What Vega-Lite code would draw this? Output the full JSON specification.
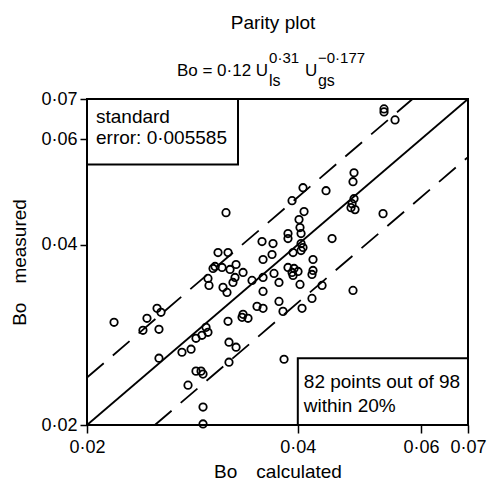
{
  "$schema": "https://vega.github.io/schema/vega-lite/v6.json",
  "width": 381,
  "height": 326,
  "autosize": "none",
  "padding": {"left": 87, "top": 99, "right": 22, "bottom": 59},
  "background": "white",
  "config": {
    "view": {"stroke": "black", "strokeWidth": 2},
    "font": "Liberation Sans",
    "axis": {"domain": false, "grid": false, "ticks": true, "tickColor": "black", "tickWidth": 1.5, "tickSize": 7, "labelColor": "black", "labelFont": "Liberation Sans", "labelFontSize": 18, "titleFont": "Liberation Sans", "titleFontSize": 19, "titleFontWeight": "normal", "titleColor": "black", "labelOverlap": false, "labelFlush": false}
  },
  "datasets": {
    "pts": [
      {"calc": 0.05311, "meas": 0.06738}, {"calc": 0.05311, "meas": 0.06661}, {"calc": 0.05507, "meas": 0.0646},
      {"calc": 0.03159, "meas": 0.04523}, {"calc": 0.04812, "meas": 0.05272}, {"calc": 0.04796, "meas": 0.05094},
      {"calc": 0.04069, "meas": 0.04978}, {"calc": 0.04389, "meas": 0.04921}, {"calc": 0.03925, "meas": 0.04736},
      {"calc": 0.04812, "meas": 0.04772}, {"calc": 0.04781, "meas": 0.04682}, {"calc": 0.04765, "meas": 0.04611},
      {"calc": 0.04828, "meas": 0.04576}, {"calc": 0.04083, "meas": 0.04541}, {"calc": 0.05294, "meas": 0.04506},
      {"calc": 0.04016, "meas": 0.04404}, {"calc": 0.04029, "meas": 0.04271}, {"calc": 0.04043, "meas": 0.04174},
      {"calc": 0.03873, "meas": 0.04174}, {"calc": 0.03873, "meas": 0.04095}, {"calc": 0.04477, "meas": 0.04095},
      {"calc": 0.03556, "meas": 0.04048}, {"calc": 0.03687, "meas": 0.04017}, {"calc": 0.04043, "meas": 0.04017},
      {"calc": 0.04069, "meas": 0.03956}, {"calc": 0.04043, "meas": 0.0391}, {"calc": 0.03938, "meas": 0.0388},
      {"calc": 0.03675, "meas": 0.03851}, {"calc": 0.03077, "meas": 0.0388}, {"calc": 0.0318, "meas": 0.0388},
      {"calc": 0.03568, "meas": 0.03778}, {"calc": 0.04205, "meas": 0.03778}, {"calc": 0.03265, "meas": 0.03706},
      {"calc": 0.03027, "meas": 0.0365}, {"calc": 0.03118, "meas": 0.03664}, {"calc": 0.03201, "meas": 0.03636},
      {"calc": 0.03341, "meas": 0.03594}, {"calc": 0.03873, "meas": 0.03664}, {"calc": 0.03951, "meas": 0.0365},
      {"calc": 0.04003, "meas": 0.03608}, {"calc": 0.03925, "meas": 0.03594}, {"calc": 0.03938, "meas": 0.03553},
      {"calc": 0.04205, "meas": 0.03622}, {"calc": 0.04191, "meas": 0.03567}, {"calc": 0.03699, "meas": 0.03581},
      {"calc": 0.03568, "meas": 0.03526}, {"calc": 0.03441, "meas": 0.03486}, {"calc": 0.02977, "meas": 0.03513},
      {"calc": 0.03254, "meas": 0.03526}, {"calc": 0.03232, "meas": 0.03459}, {"calc": 0.0376, "meas": 0.03459},
      {"calc": 0.04029, "meas": 0.03433}, {"calc": 0.04332, "meas": 0.0342}, {"calc": 0.04796, "meas": 0.03355},
      {"calc": 0.02987, "meas": 0.0342}, {"calc": 0.03128, "meas": 0.03394}, {"calc": 0.03169, "meas": 0.03329},
      {"calc": 0.03568, "meas": 0.03342}, {"calc": 0.04191, "meas": 0.03253}, {"calc": 0.0376, "meas": 0.03216},
      {"calc": 0.03498, "meas": 0.03155}, {"calc": 0.03568, "meas": 0.03131}, {"calc": 0.04056, "meas": 0.03131},
      {"calc": 0.0381, "meas": 0.03095}, {"calc": 0.03341, "meas": 0.0306}, {"calc": 0.0333, "meas": 0.03025},
      {"calc": 0.03396, "meas": 0.03014}, {"calc": 0.0318, "meas": 0.02979}, {"calc": 0.02958, "meas": 0.02911},
      {"calc": 0.02977, "meas": 0.02856}, {"calc": 0.02919, "meas": 0.02823}, {"calc": 0.02862, "meas": 0.02791},
      {"calc": 0.02816, "meas": 0.02676}, {"calc": 0.02733, "meas": 0.02645}, {"calc": 0.0319, "meas": 0.02749},
      {"calc": 0.03265, "meas": 0.02697}, {"calc": 0.0319, "meas": 0.02546}, {"calc": 0.02518, "meas": 0.03131},
      {"calc": 0.02551, "meas": 0.03084}, {"calc": 0.02436, "meas": 0.03014}, {"calc": 0.02186, "meas": 0.02968},
      {"calc": 0.02404, "meas": 0.02878}, {"calc": 0.02534, "meas": 0.02889}, {"calc": 0.02534, "meas": 0.02585},
      {"calc": 0.02862, "meas": 0.0246}, {"calc": 0.0291, "meas": 0.0246}, {"calc": 0.02929, "meas": 0.02432},
      {"calc": 0.02788, "meas": 0.02331}, {"calc": 0.02929, "meas": 0.02143}, {"calc": 0.02929, "meas": 0.02008},
      {"calc": 0.03823, "meas": 0.02575}, {"calc": 0.03047, "meas": 0.03678}
    ],
    "parity": [{"calc": 0.02, "meas": 0.02}, {"calc": 0.07, "meas": 0.07}],
    "upper": [{"calc": 0.02, "meas": 0.024}, {"calc": 0.05833, "meas": 0.07}],
    "lower": [{"calc": 0.025, "meas": 0.02}, {"calc": 0.07, "meas": 0.056}]
  },
  "layer": [
    {
      "data": {"name": "parity"},
      "mark": {"type": "line", "color": "black", "strokeWidth": 1.8},
      "encoding": {
        "x": {"field": "calc", "type": "quantitative", "scale": {"type": "log", "domain": [0.02, 0.07], "nice": false, "zero": false},
              "axis": {"values": [0.02, 0.04, 0.06, 0.07], "labelExpr": "replace(format(datum.value, '.2f'), '.', '·')", "labelPadding": 5, "tickSize": 8, "title": "Bo\u2003calculated", "titlePadding": 6}},
        "y": {"field": "meas", "type": "quantitative", "scale": {"type": "log", "domain": [0.02, 0.07], "nice": false, "zero": false},
              "axis": {"values": [0.02, 0.04, 0.06, 0.07], "labelExpr": "replace(format(datum.value, '.2f'), '.', '·')", "labelPadding": 3, "title": "Bo\u2003measured", "titlePadding": 11}}
      }
    },
    {
      "data": {"name": "upper"},
      "mark": {"type": "line", "color": "black", "strokeWidth": 1.8, "strokeDash": [22, 12]},
      "encoding": {"x": {"field": "calc", "type": "quantitative"}, "y": {"field": "meas", "type": "quantitative"}}
    },
    {
      "data": {"name": "lower"},
      "mark": {"type": "line", "color": "black", "strokeWidth": 1.8, "strokeDash": [22, 12]},
      "encoding": {"x": {"field": "calc", "type": "quantitative"}, "y": {"field": "meas", "type": "quantitative"}}
    },
    {
      "data": {"name": "pts"},
      "mark": {"type": "point", "shape": "circle", "filled": false, "color": "black", "strokeWidth": 1.8, "size": 55, "opacity": 1},
      "encoding": {"x": {"field": "calc", "type": "quantitative"}, "y": {"field": "meas", "type": "quantitative"}}
    },
    {
      "data": {"values": [{}]},
      "mark": {"type": "rect", "fill": "white", "stroke": "black", "strokeWidth": 2},
      "encoding": {"x": {"datum": 0.02}, "x2": {"datum": 0.03286}, "y": {"datum": 0.0544}, "y2": {"datum": 0.07}}
    },
    {
      "data": {"values": [{}]},
      "mark": {"type": "rect", "fill": "white", "stroke": "black", "strokeWidth": 2},
      "encoding": {"x": {"datum": 0.04}, "x2": {"datum": 0.07}, "y": {"datum": 0.02}, "y2": {"datum": 0.02586}}
    },
    {
      "data": {"values": [{}]},
      "mark": {"type": "text", "text": ["standard", "error: 0·005585"], "align": "left", "baseline": "alphabetic", "fontSize": 19, "lineHeight": 21, "color": "black"},
      "encoding": {"x": {"datum": 0.0206}, "y": {"datum": 0.0638}}
    },
    {
      "data": {"values": [{}]},
      "mark": {"type": "text", "text": ["82 points out of 98", "within 20%"], "align": "left", "baseline": "alphabetic", "fontSize": 19, "lineHeight": 24, "color": "black"},
      "encoding": {"x": {"datum": 0.0408}, "y": {"datum": 0.02305}}
    },
    {
      "data": {"values": [{}]},
      "mark": {"type": "text", "text": "Parity plot", "align": "center", "baseline": "alphabetic", "fontSize": 19, "color": "black"},
      "encoding": {"x": {"datum": 0.03687}, "y": {"datum": 0.09154}}
    },
    {
      "data": {"values": [{}]},
      "mark": {"type": "text", "text": "Bo = 0·12 U", "align": "right", "baseline": "alphabetic", "fontSize": 17, "color": "black"},
      "encoding": {"x": {"datum": 0.03628}, "y": {"datum": 0.07646}}
    },
    {
      "data": {"values": [{}]},
      "mark": {"type": "text", "text": "0·31", "align": "left", "baseline": "alphabetic", "fontSize": 15, "color": "black"},
      "encoding": {"x": {"datum": 0.03639}, "y": {"datum": 0.0805}}
    },
    {
      "data": {"values": [{}]},
      "mark": {"type": "text", "text": "ls", "align": "left", "baseline": "alphabetic", "fontSize": 16, "color": "black"},
      "encoding": {"x": {"datum": 0.03639}, "y": {"datum": 0.07358}}
    },
    {
      "data": {"values": [{}]},
      "mark": {"type": "text", "text": "U", "align": "left", "baseline": "alphabetic", "fontSize": 17, "color": "black"},
      "encoding": {"x": {"datum": 0.04096}, "y": {"datum": 0.07646}}
    },
    {
      "data": {"values": [{}]},
      "mark": {"type": "text", "text": "−0·177", "align": "left", "baseline": "alphabetic", "fontSize": 15, "color": "black"},
      "encoding": {"x": {"datum": 0.04274}, "y": {"datum": 0.0805}}
    },
    {
      "data": {"values": [{}]},
      "mark": {"type": "text", "text": "gs", "align": "left", "baseline": "alphabetic", "fontSize": 16, "color": "black"},
      "encoding": {"x": {"datum": 0.04274}, "y": {"datum": 0.07358}}
    }
  ]
}
